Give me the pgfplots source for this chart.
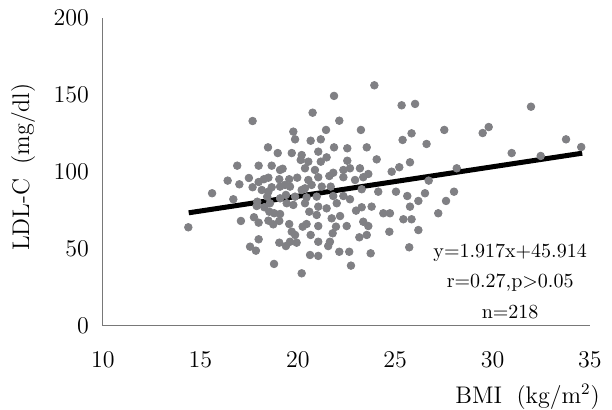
\documentclass[border=0pt]{standalone}
\usepackage{pgfplots}
\pgfplotsset{compat=1.18}
\definecolor{dotgray}{RGB}{128,128,132}
\definecolor{axgray}{RGB}{120,120,120}

\begin{document}
\begin{tikzpicture}
\useasboundingbox (-51.5pt,-42pt) rectangle (254.5pt,163pt);
\begin{axis}[
  scale only axis,
  width=243.5pt, height=154pt,
  xmin=10, xmax=35, ymin=0, ymax=200,
  xtick={10,15,...,35}, ytick={0,50,...,200},
  axis x line*=bottom, axis y line*=left,
  axis line style={axgray, line width=0.5pt, -},
  major tick length=0pt,
  tick label style={font=\fontsize{12}{14}\selectfont},
  xticklabel style={yshift=-9.5pt},
  yticklabel style={xshift=-3.5pt},
  ylabel={LDL-C\hspace{0.6em}(mg/dl)},
  xlabel={BMI\hspace{0.6em}(kg/m$^2$)},
  label style={font=\fontsize{12}{14}\selectfont},
  ylabel style={at={(axis description cs:-0.164,0.516)}, anchor=center},
  xlabel style={at={(axis description cs:0.872,-0.23)}, anchor=center},
  clip=false,
]
% scatter
\addplot[only marks, mark=*, mark size=1.9pt, color=dotgray, mark options={draw=none, fill=dotgray}] coordinates {
(17.68,133.1) (19.77,126.2) (19.86,121.2) (18.47,116.0) (18.97,112.3)
(19.69,112.3) (20.15,107.8) (20.54,106.7) (16.89,104.1) (17.99,104.1)
(18.66,104.1) (19.09,101.3) (19.22,102.1) (17.49,96.1) (17.99,93.5)
(18.26,95.3) (18.49,96.3) (19.05,95.3) (19.56,95.3) (19.97,96.3)
(16.40,94.4) (17.00,92.0) (17.68,90.1) (18.15,88.3) (18.49,87.2)
(18.66,90.1) (19.09,90.5) (19.34,91.6) (19.60,90.5) (20.37,89.4)
(15.60,86.2) (16.69,82.3) (17.92,80.7) (18.43,84.0) (18.57,79.7)
(19.09,82.9) (19.39,85.1) (19.43,79.7) (19.86,84.0) (19.77,78.6)
(17.89,77.9) (18.28,77.1) (18.54,74.2) (18.79,73.2) (19.09,72.7)
(14.38,64.1) (17.08,68.2) (17.75,70.6) (17.99,67.1) (18.49,68.4)
(18.74,66.0) (19.05,68.2) (19.56,66.2) (19.69,61.2) (19.86,59.1)
(17.99,56.3) (17.55,51.5) (17.85,48.9) (19.05,54.1) (19.39,51.9)
(19.60,54.7) (19.94,54.1) (18.78,40.3)
(21.86,149.4) (25.33,143.3) (26.02,144.2) (20.76,138.5) (22.13,133.3)
(21.45,127.3) (23.24,127.3) (25.84,125.1) (25.38,120.8) (20.66,120.3)
(21.18,121.2) (26.61,118.2) (21.86,116.0) (22.54,115.4) (23.54,116.0)
(20.20,111.0) (21.05,113.2) (21.48,109.5) (21.18,106.7) (22.54,107.3)
(24.05,108.2) (25.76,106.3) (20.37,102.4) (20.88,101.3) (21.82,99.5)
(22.34,101.3) (22.68,102.4) (23.19,102.4) (23.62,98.7) (24.82,100.2)
(25.21,103.1) (20.54,94.8) (21.05,96.6) (21.62,97.4) (22.34,96.6)
(22.94,94.8) (23.36,96.6) (20.20,88.3) (20.71,91.6) (21.23,90.5)
(21.69,90.5) (23.28,88.8) (24.13,87.2) (25.04,87.2) (20.45,83.5)
(20.97,84.0) (21.82,84.4) (22.34,84.4) (22.68,82.3) (25.62,84.4)
(26.53,86.2) (20.37,79.7) (21.05,77.5) (21.48,76.4) (22.00,79.7)
(22.99,74.9) (23.28,77.1) (23.79,77.5) (25.76,77.5) (26.19,81.2)
(20.59,74.2) (20.97,72.1) (21.74,69.9) (22.17,71.4) (24.39,73.2)
(24.73,73.2) (20.25,64.5) (20.45,66.2) (21.05,64.9) (21.96,64.5)
(22.51,64.9) (23.36,67.7) (23.62,64.9) (25.42,69.3) (25.84,69.3)
(20.66,59.1) (21.79,60.2) (23.16,57.6) (23.54,59.1) (24.70,61.2)
(26.19,62.3) (21.05,54.7) (21.65,54.7) (21.56,51.9) (25.72,51.1)
(20.63,46.1) (21.05,45.5) (22.13,48.2) (22.64,48.2) (23.74,47.2)
(22.73,39.2) (20.20,34.2)
(23.93,156.3) (27.52,127.3) (28.16,102.4) (31.97,142.4) (29.80,129.2)
(29.49,125.3) (33.77,121.2) (34.55,116.2) (30.98,112.3) (32.47,110.4)
(28.02,87.2) (27.61,81.2) (27.21,73.2) (26.72,94.4)
};
% regression line
\addplot[black, line width=2.5pt] coordinates {(14.4,73.5) (34.6,112.2)};
\node[font=\fontsize{10}{12}\selectfont] at (axis cs:30.9,47.4) {y=1.917x+45.914};
\node[font=\fontsize{10}{12}\selectfont] at (axis cs:30.9,27.9) {r=0.27,p>0.05};
\node[font=\fontsize{10}{12}\selectfont] at (axis cs:30.9,9.1) {n=218};
\end{axis}
\end{tikzpicture}
\end{document}
